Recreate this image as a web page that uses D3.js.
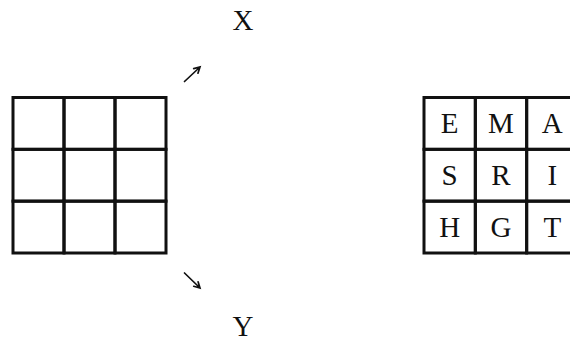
<!DOCTYPE html>
<html>

<head>
  <meta charset="utf-8">
  <title>Grid transform</title>
  <style type="text/css">
    body {
      margin: 0;
      background: #fff;
    }

    svg {
      display: block;
      width: 570px;
      height: 343px;
      background-color: #fff;
    }

    .cell {
      fill: none;
      stroke: #111;
      stroke-width: 3px;
    }

    .letter,
    .label {
      font-family: "Liberation Serif", "DejaVu Serif", serif;
      fill: #111;
      text-anchor: middle;
      font-size: 29px;
    }

    .arrow {
      stroke: #111;
      stroke-width: 1.7px;
      fill: none;
      stroke-linecap: round;
    }
  </style>
  <script type="text/javascript" src="https://cdn.jsdelivr.net/npm/d3@7"></script>
</head>

<body>

  <script>
    // 資料
    var rowKeys = [0, 1, 2],
      colKeys = [0, 1, 2],
      gridLetters = [
        ['E', 'M', 'A'],
        ['S', 'R', 'I'],
        ['H', 'G', 'T']
      ],
      axisLabels = ['X', 'Y'];

    var svg = d3.select('body').append('svg')
      .attr('width', 570)
      .attr('height', 343);

    var y = d3.scaleBand().domain(rowKeys).range([97.5, 253]),
      xLeft = d3.scaleBand().domain(colKeys).range([13, 166]),
      xRight = d3.scaleBand().domain(colKeys).range([424, 578]);

    var cells = [];
    rowKeys.forEach(r => colKeys.forEach(c => cells.push({ r: r, c: c, t: gridLetters[r][c] })));

    // 左邊空格
    svg.append('g').selectAll('rect')
      .data(cells)
      .join('rect')
      .classed('cell', true)
      .attr('x', d => xLeft(d.c))
      .attr('y', d => y(d.r))
      .attr('width', xLeft.bandwidth())
      .attr('height', y.bandwidth());

    // 右邊字母格
    var right = svg.append('g');
    right.selectAll('rect')
      .data(cells)
      .join('rect')
      .classed('cell', true)
      .attr('x', d => xRight(d.c))
      .attr('y', d => y(d.r))
      .attr('width', xRight.bandwidth())
      .attr('height', y.bandwidth());

    right.selectAll('text')
      .data(cells)
      .join('text')
      .classed('letter', true)
      .attr('x', d => xRight(d.c) + xRight.bandwidth() / 2)
      .attr('y', d => y(d.r) + y.bandwidth() / 2 + 10)
      .text(d => d.t);

    // 軸標籤
    svg.selectAll('.label')
      .data(axisLabels)
      .join('text')
      .classed('label', true)
      .attr('x', 243)
      .attr('y', (d, i) => i === 0 ? 30 : 336)
      .text(d => d);

    // 箭頭
    function arrow(x1, y1, x2, y2) {
      var a = Math.atan2(y2 - y1, x2 - x1), h = 6.5, s = 0.5;
      var p = d3.path();
      p.moveTo(x1, y1);
      p.lineTo(x2, y2);
      p.moveTo(x2 - h * Math.cos(a - s), y2 - h * Math.sin(a - s));
      p.lineTo(x2, y2);
      p.lineTo(x2 - h * Math.cos(a + s), y2 - h * Math.sin(a + s));
      svg.append('path').classed('arrow', true).attr('d', p.toString());
    }
    arrow(184.5, 81.5, 200, 67);
    arrow(184.5, 273, 200, 288);
  </script>
</body>

</html>
